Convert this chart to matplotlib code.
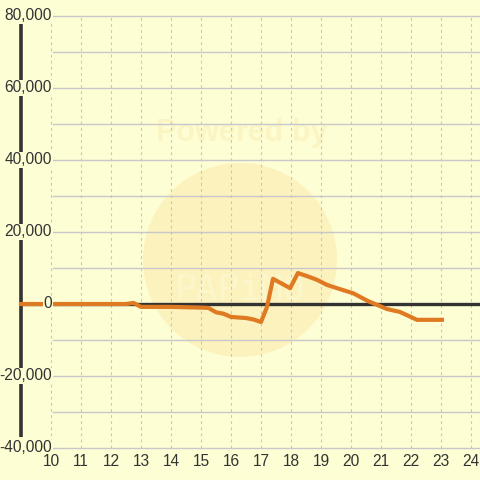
import matplotlib
matplotlib.use("Agg")
import matplotlib.pyplot as plt
from matplotlib.patches import Circle

# ---- data ----
hours = [9.0, 12.5, 12.75, 13.0, 14.0, 15.0, 15.25, 15.5, 15.75, 16.0, 16.5, 16.75,
         17.0, 17.2, 17.4, 17.97, 18.23, 18.55, 18.87, 19.2, 19.53, 20.07, 20.57,
         21.2, 21.63, 22.2, 23.03]
values = [0, 0, 300, -800, -800, -1000, -1100, -2300, -2700, -3600, -3900, -4300,
          -5000, -800, 7000, 4400, 8600, 7700, 6700, 5300, 4400, 3000, 800,
          -1400, -2200, -4400, -4400]
x_ticks = list(range(10, 25))
y_ticks = [-40000, -20000, 0, 20000, 40000, 60000, 80000]
y_grid = list(range(-40000, 80001, 10000))

BG = "#FEFED4"
W = H = 480

def hx(px):
    return 10 + (px - 51) / 30.0

def vy(py):
    return (304 - py) * 1000 / 3.6

fig = plt.figure(figsize=(4.8, 4.8), dpi=100, facecolor=BG)
ax = fig.add_axes([0, 0, 1, 1])
ax.set_facecolor(BG)
ax.set_xlim(hx(0), hx(480))
ax.set_ylim(vy(480), vy(0))
ax.axis("off")

# watermark
ax.add_patch(Circle((240 / W, 1 - 260 / H), 97 / W, transform=fig.transFigure,
                    facecolor="#FCF2BE", edgecolor="none", zorder=0.5))
ax.text(242 / W, 1 - 133 / H, "Powered by", ha="center", va="center",
        transform=fig.transFigure,
        fontsize=22, fontweight="bold", color="#FBF5C4", family="Liberation Sans", zorder=1)
ax.text(240 / W, 1 - 290 / H, "PAPiMO", ha="center", va="center",
        transform=fig.transFigure,
        fontsize=26, color="#FCF6CC", family="DejaVu Sans Mono", zorder=1)

# grid
for g in y_grid:
    ax.plot([hx(53), hx(480)], [g, g], color="#C8C8CC", lw=1, zorder=2)
for t in x_ticks:
    ax.plot([t, t], [-40000, 80000], color="#C4C4CC", lw=0.8, ls=(0, (2.5, 3)), zorder=2)

# zero line
ax.plot([hx(21), hx(480)], [0, 0], color="#333333", lw=2.4, zorder=3)

# y axis line
ax.plot([hx(21), hx(21)], [vy(437), vy(24)], color="#333333", lw=2.6, zorder=3,
        solid_capstyle="butt")

# series
ax.plot(hours, values, color="#E07A22", lw=3, zorder=5, solid_joinstyle="round")

# tick labels
for v in y_ticks:
    ax.text(hx(52), v, f"{v:,}", ha="right", va="center", fontsize=11.2,
            color="#333333", family="Liberation Sans", zorder=6,
            bbox=dict(boxstyle="square,pad=0.05", facecolor=BG, edgecolor="none"))
for t in x_ticks:
    ax.text(t, vy(461), str(t), ha="center", va="center", fontsize=11.2,
            color="#333333", family="Liberation Sans", zorder=6)

fig.savefig("out.png", dpi=100, facecolor=BG)
